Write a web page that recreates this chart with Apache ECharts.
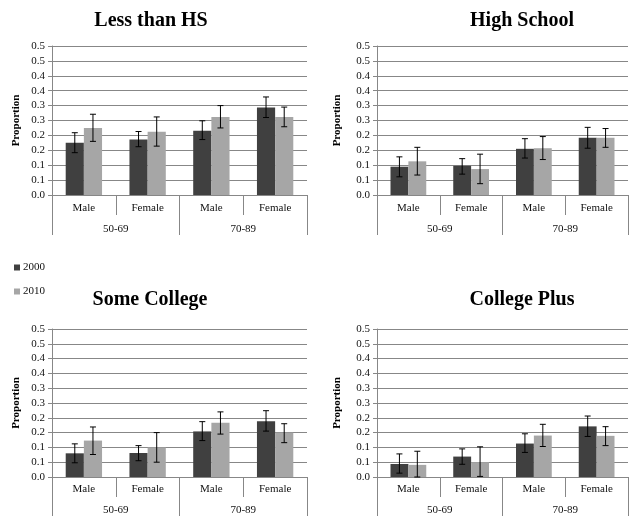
<!DOCTYPE html>
<html>
<head>
<meta charset="utf-8">
<script src="https://cdn.jsdelivr.net/npm/echarts@6/dist/echarts.min.js"></script>
<style>
html,body{margin:0;padding:0;background:#fff;}
#chart{width:633px;height:516px;}
</style>
</head>
<body>
<div id="chart"></div>
<script>
// ---- data ----
const categories = ['Male', 'Female', 'Male', 'Female'];
const ageGroups = ['50-69', '70-89'];
const seriesNames = ['2000', '2010'];
const panelTitles = ['Less than HS', 'High School', 'Some College', 'College Plus'];
const yTickLabels = ['0.0','0.1','0.1','0.2','0.2','0.3','0.3','0.4','0.4','0.5','0.5'];

const lessHS2000   = [0.175, 0.186, 0.216, 0.294];
const lessHS2000Lo = [0.142, 0.162, 0.186, 0.260];
const lessHS2000Hi = [0.209, 0.213, 0.249, 0.329];
const lessHS2010   = [0.225, 0.212, 0.262, 0.262];
const lessHS2010Lo = [0.180, 0.164, 0.225, 0.229];
const lessHS2010Hi = [0.271, 0.262, 0.300, 0.295];

const hs2000   = [0.095, 0.098, 0.155, 0.192];
const hs2000Lo = [0.061, 0.070, 0.124, 0.157];
const hs2000Hi = [0.128, 0.122, 0.189, 0.227];
const hs2010   = [0.113, 0.087, 0.157, 0.192];
const hs2010Lo = [0.067, 0.038, 0.119, 0.160];
const hs2010Hi = [0.160, 0.137, 0.196, 0.223];

const sc2000   = [0.080, 0.081, 0.154, 0.188];
const sc2000Lo = [0.048, 0.055, 0.123, 0.155];
const sc2000Hi = [0.112, 0.106, 0.187, 0.224];
const sc2010   = [0.123, 0.100, 0.183, 0.150];
const sc2010Lo = [0.076, 0.050, 0.145, 0.116];
const sc2010Hi = [0.169, 0.150, 0.220, 0.180];

const cp2000   = [0.044, 0.069, 0.113, 0.171];
const cp2000Lo = [0.013, 0.043, 0.083, 0.137];
const cp2000Hi = [0.078, 0.095, 0.146, 0.206];
const cp2010   = [0.041, 0.050, 0.140, 0.139];
const cp2010Lo = [0.000, 0.002, 0.103, 0.106];
const cp2010Hi = [0.087, 0.102, 0.178, 0.170];

const panels = [
  {v0: lessHS2000, lo0: lessHS2000Lo, hi0: lessHS2000Hi, v1: lessHS2010, lo1: lessHS2010Lo, hi1: lessHS2010Hi},
  {v0: hs2000, lo0: hs2000Lo, hi0: hs2000Hi, v1: hs2010, lo1: hs2010Lo, hi1: hs2010Hi},
  {v0: sc2000, lo0: sc2000Lo, hi0: sc2000Hi, v1: sc2010, lo1: sc2010Lo, hi1: sc2010Hi},
  {v0: cp2000, lo0: cp2000Lo, hi0: cp2000Hi, v1: cp2010, lo1: cp2010Lo, hi1: cp2010Hi}
];

// ---- layout ----
const FONT = '"Liberation Serif", "Times New Roman", serif';
const GRAY = '#878787';
const C2000 = '#404040';
const C2010 = '#a6a6a6';
const CAT_GAP = 0.43;

const gridPos = [
  {left: 52, top: 46, width: 255, height: 149, nameGap: 30, titleX: 146, titleY: 6, lblMargin: 8, grpMargin: 29},
  {left: 377, top: 46, width: 251, height: 149, nameGap: 34, titleX: 517, titleY: 6, lblMargin: 8, grpMargin: 29},
  {left: 52, top: 329, width: 255, height: 150, nameGap: 30, titleX: 145, titleY: 285, lblMargin: 7, grpMargin: 28},
  {left: 377, top: 329, width: 251, height: 150, nameGap: 34, titleX: 517, titleY: 285, lblMargin: 7, grpMargin: 28}
];

const grids = [], xAxes = [], yAxes = [], series = [], titles = [];

panels.forEach((p, i) => {
  const g = gridPos[i];
  grids.push({left: g.left, top: g.top, width: g.width, height: g.height, containLabel: false});
  titles.push({
    text: panelTitles[i], left: g.titleX, top: g.titleY, textAlign: 'center',
    textStyle: {fontFamily: FONT, fontSize: 20, fontWeight: 'bold', color: '#000'}
  });
  // primary category axis
  xAxes.push({
    type: 'category', gridIndex: i, data: categories, position: 'bottom',
    axisLine: {show: true, lineStyle: {color: GRAY, width: 1}},
    axisTick: {show: true, length: 20, interval: 0, lineStyle: {color: GRAY}},
    axisLabel: {interval: 0, margin: g.lblMargin, fontFamily: FONT, fontSize: 11, color: '#111'},
    splitLine: {show: false}
  });
  // group axis
  xAxes.push({
    type: 'category', gridIndex: i, data: ageGroups, position: 'bottom',
    axisLine: {show: false},
    axisTick: {show: true, length: 40, interval: 0, lineStyle: {color: GRAY}},
    axisLabel: {interval: 0, margin: g.grpMargin, fontFamily: FONT, fontSize: 11, color: '#111'},
    splitLine: {show: false}
  });
  yAxes.push({
    type: 'value', gridIndex: i, min: 0, max: 0.5, interval: 0.05,
    name: 'Proportion', nameLocation: 'middle', nameGap: g.nameGap, nameRotate: 90,
    nameTextStyle: {fontFamily: FONT, fontSize: 11, fontWeight: 'bold', color: '#000'},
    axisLine: {show: true, lineStyle: {color: GRAY, width: 1}},
    axisTick: {show: true, length: 4, lineStyle: {color: GRAY}},
    axisLabel: {
      margin: 7, fontFamily: FONT, fontSize: 11, color: '#111',
      formatter: v => yTickLabels[Math.round(v / 0.05)]
    },
    splitLine: {show: true, lineStyle: {color: GRAY, width: 1}}
  });
  const xIdx = i * 2;
  series.push({
    name: seriesNames[0], type: 'bar', xAxisIndex: xIdx, yAxisIndex: i, data: p.v0,
    barGap: '0%', barCategoryGap: (CAT_GAP * 100) + '%',
    itemStyle: {color: C2000}, emphasis: {disabled: true}
  });
  series.push({
    name: seriesNames[1], type: 'bar', xAxisIndex: xIdx, yAxisIndex: i, data: p.v1,
    barGap: '0%', barCategoryGap: (CAT_GAP * 100) + '%',
    itemStyle: {color: C2010}, emphasis: {disabled: true}
  });
  const errData = [];
  for (let k = 0; k < categories.length; k++) {
    errData.push([k, p.lo0[k], p.hi0[k], 0]);
    errData.push([k, p.lo1[k], p.hi1[k], 1]);
  }
  series.push({
    type: 'custom', xAxisIndex: xIdx, yAxisIndex: i, data: errData, z: 10,
    encode: {x: 0, y: [1, 2]},
    renderItem: function (params, api) {
      const k = api.value(0);
      const lo = api.coord([k, api.value(1)]);
      const hi = api.coord([k, api.value(2)]);
      const band = api.size([1, 0])[0];
      const bw = band * (1 - CAT_GAP) / 2;
      const cx = lo[0] + (api.value(3) === 0 ? -bw / 2 : bw / 2);
      const cap = 3;
      const st = {stroke: '#000', lineWidth: 1};
      return {
        type: 'group',
        children: [
          {type: 'line', shape: {x1: cx, y1: lo[1], x2: cx, y2: hi[1]}, style: st},
          {type: 'line', shape: {x1: cx - cap, y1: lo[1], x2: cx + cap, y2: lo[1]}, style: st},
          {type: 'line', shape: {x1: cx - cap, y1: hi[1], x2: cx + cap, y2: hi[1]}, style: st}
        ]
      };
    },
    silent: true
  });
});

const chart = echarts.init(document.getElementById('chart'), null, {renderer: 'canvas'});
chart.setOption({
  backgroundColor: '#fff',
  animation: false,
  title: titles,
  legend: {
    data: seriesNames, orient: 'vertical', left: 9, top: 257,
    icon: 'rect', itemWidth: 6, itemHeight: 6, itemGap: 13,
    textStyle: {fontFamily: FONT, fontSize: 11, color: '#111', padding: [0, 0, 0, -2]}
  },
  grid: grids,
  xAxis: xAxes,
  yAxis: yAxes,
  series: series
});
</script>
</body>
</html>
